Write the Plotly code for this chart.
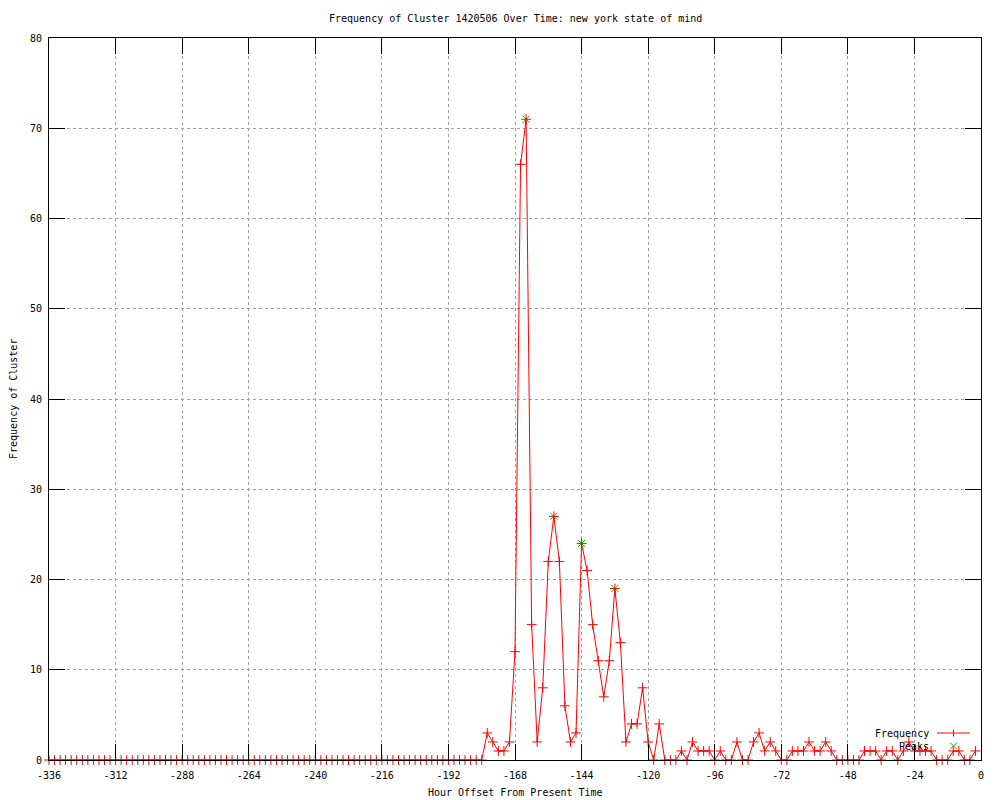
import plotly.graph_objects as go

# ---------------- data ----------------
hours = list(range(-336, 0, 2))  # 2-hour bins, -336 .. -2

frequency = [
    0, 0, 0, 0, 0, 0, 0, 0, 0, 0, 0, 0, 0, 0, 0, 0, 0, 0, 0, 0,   # -336 .. -298
    0, 0, 0, 0, 0, 0, 0, 0, 0, 0, 0, 0, 0, 0, 0, 0, 0, 0, 0, 0,   # -296 .. -258
    0, 0, 0, 0, 0, 0, 0, 0, 0, 0, 0, 0, 0, 0, 0, 0, 0, 0, 0, 0,   # -256 .. -218
    0, 0, 0, 0, 0, 0, 0, 0, 0, 0, 0, 0, 0, 0, 0, 0, 0, 0, 0,      # -216 .. -180
    3, 2, 1, 1, 2, 12, 66, 71, 15, 2,                             # -178 .. -160
    8, 22, 27, 22, 6, 2, 3, 24, 21, 15,                           # -158 .. -140
    11, 7, 11, 19, 13, 2, 4, 4, 8, 2,                             # -138 .. -120
    0, 4, 0, 0, 0, 1, 0, 2, 1, 1,                                 # -118 .. -100
    1, 0, 1, 0, 0, 2, 0, 0, 2, 3,                                 # -98 .. -80
    1, 2, 1, 0, 0, 1, 1, 1, 2, 1,                                 # -78 .. -60
    1, 2, 1, 0, 0, 0, 0, 0, 1, 1,                                 # -58 .. -40
    1, 0, 1, 1, 0, 1, 2, 1, 1, 1,                                 # -38 .. -20
    1, 0, 0, 0, 1, 1, 0, 0, 1,                                    # -18 .. -2
]

peak_hours = [-164, -154, -144, -132]
peak_values = [71, 27, 24, 19]

x_tick_values = [-336, -312, -288, -264, -240, -216, -192, -168, -144, -120, -96, -72, -48, -24, 0]
x_tick_labels = ["-336", "-312", "-288", "-264", "-240", "-216", "-192", "-168", "-144",
                 "-120", "-96", "-72", "-48", "-24", "0"]
y_tick_values = [0, 10, 20, 30, 40, 50, 60, 70, 80]

title_text = "Frequency of Cluster 1420506 Over Time: new york state of mind"
x_title = "Hour Offset From Present Time"
y_title = "Frequency of Cluster"

# ---------------- layout geometry ----------------
W, H = 1000, 800
L, R, T, B = 49, 19, 38, 40
PW, PH = W - L - R, H - T - B


def px_x(p):
    return (p - L) / PW


def px_y(p):
    return (H - B - p) / PH


FONT = "DejaVu Sans Mono"
RED = "#ff0000"
GREEN = "#00c000"

fig = go.Figure()

fig.add_trace(go.Scatter(
    x=peak_hours, y=peak_values, mode="markers", name="Peaks",
    marker=dict(symbol="x-thin", size=7, color=GREEN, line=dict(color=GREEN, width=1)),
    showlegend=False, cliponaxis=False,
))
fig.add_trace(go.Scatter(
    x=hours, y=frequency, mode="lines+markers", name="Frequency",
    line=dict(color=RED, width=1),
    marker=dict(symbol="cross-thin", size=7, color=RED, line=dict(color=RED, width=1)),
    showlegend=False, cliponaxis=False,
))

axis_common = dict(
    showline=True, linecolor="black", linewidth=1, mirror="ticks",
    ticks="inside", ticklen=16, tickwidth=1, tickcolor="black",
    showgrid=True, gridcolor="#a0a0a0", gridwidth=1, griddash="3px,3px",
    zeroline=False,
    tickfont=dict(family=FONT, size=10, color="black"),
)

fig.update_xaxes(range=[-336, 0], tickvals=x_tick_values, ticktext=x_tick_labels,
                 ticklabelstandoff=6, **axis_common)
fig.update_yaxes(range=[0, 80], tickvals=y_tick_values,
                 ticklabelstandoff=4, **axis_common)

annotations = [
    dict(text=title_text, x=0.5, xref="paper", y=px_y(18), yref="paper",
         xanchor="center", yanchor="middle", showarrow=False,
         font=dict(family=FONT, size=10, color="black")),
    dict(text=x_title, x=0.5, xref="paper", y=px_y(792), yref="paper",
         xanchor="center", yanchor="middle", showarrow=False,
         font=dict(family=FONT, size=10, color="black")),
    dict(text=y_title, x=px_x(13), xref="paper", y=0.5, yref="paper",
         xanchor="center", yanchor="middle", textangle=-90, showarrow=False,
         font=dict(family=FONT, size=10, color="black")),
    dict(text="Frequency", x=px_x(931), xref="paper", y=px_y(733), yref="paper",
         xanchor="right", yanchor="middle", showarrow=False,
         font=dict(family=FONT, size=10, color="black")),
    dict(text="Peaks", x=px_x(931), xref="paper", y=px_y(746), yref="paper",
         xanchor="right", yanchor="middle", showarrow=False,
         font=dict(family=FONT, size=10, color="black")),
]

shapes = [
    # Frequency legend sample: red line with "+"
    dict(type="line", xref="paper", yref="paper", x0=px_x(937), x1=px_x(970),
         y0=px_y(733), y1=px_y(733), line=dict(color=RED, width=1)),
    dict(type="line", xref="paper", yref="paper", x0=px_x(953.5), x1=px_x(953.5),
         y0=px_y(729.5), y1=px_y(736.5), line=dict(color=RED, width=1)),
    # Peaks legend sample: green "x"
    dict(type="line", xref="paper", yref="paper", x0=px_x(950), x1=px_x(957),
         y0=px_y(742.5), y1=px_y(749.5), line=dict(color=GREEN, width=1)),
    dict(type="line", xref="paper", yref="paper", x0=px_x(950), x1=px_x(957),
         y0=px_y(749.5), y1=px_y(742.5), line=dict(color=GREEN, width=1)),
]

fig.update_layout(
    width=W, height=H,
    margin=dict(l=L, r=R, t=T, b=B, pad=0),
    paper_bgcolor="white", plot_bgcolor="white",
    font=dict(family=FONT, size=10, color="black"),
    annotations=annotations, shapes=shapes,
    showlegend=False,
)

fig.write_html("out.html", config={"displayModeBar": False},
               post_script="document.body.style.margin='0';")
